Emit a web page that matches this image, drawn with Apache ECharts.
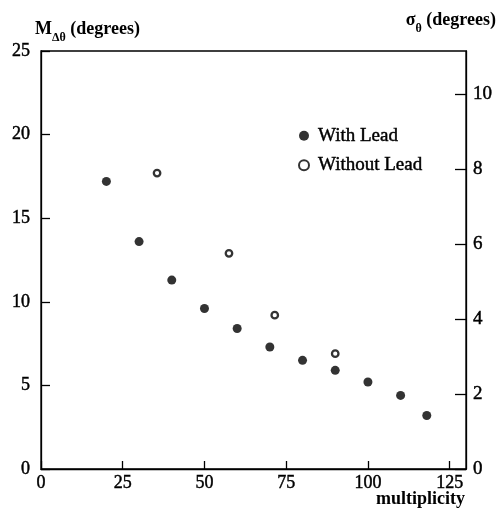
<!DOCTYPE html>
<html>
<head>
<meta charset="utf-8">
<script src="https://cdn.jsdelivr.net/npm/echarts@6/dist/echarts.min.js"></script>
<style>
  html, body { margin: 0; padding: 0; background: #fff; }
  #chart { width: 498px; height: 515px; }
</style>
</head>
<body>
<div id="chart"></div>
<script>
// Multiplicity values and angular resolution (degrees)
const withLeadX = [20, 30, 40, 50, 60, 70, 80, 90, 100, 110, 118];
const withLeadY = [17.2, 13.6, 11.3, 9.6, 8.4, 7.3, 6.5, 5.9, 5.2, 4.4, 3.2];
const withoutLeadX = [35.5, 57.5, 71.5, 90];
const withoutLeadY = [17.7, 12.9, 9.2, 6.9];

const seriesNames = ['With Lead', 'Without Lead'];
const xTicks = [0, 25, 50, 75, 100, 125];
const leftTicks = [0, 5, 10, 15, 20, 25];
const rightTicks = [0, 2, 4, 6, 8, 10];

// sigma scale: full left range (25) corresponds to ~11.15 on the right axis
const leftMax = 25;
const rightMax = 11.15;

const FONT = '"Liberation Serif", "DejaVu Serif", serif';
// slightly heavier strokes for the serif text
const heavy = { textBorderColor: '#000', textBorderWidth: 0.45 };

const pairs = (xs, ys) => xs.map((x, i) => [x, ys[i]]);

const chart = echarts.init(document.getElementById('chart'));
chart.setOption({
  animation: false,
  backgroundColor: '#fff',
  textStyle: { fontFamily: FONT, color: '#000' },
  grid: {
    left: 41, right: 32, top: 51, bottom: 46,
    containLabel: false,
    outerBoundsMode: 'none',
    show: true, borderColor: '#000', borderWidth: 1.3
  },
  legend: {
    orient: 'vertical',
    left: 293, top: 121,
    itemWidth: 10, itemHeight: 10,
    itemGap: 10,
    data: seriesNames,
    textStyle: Object.assign({ fontFamily: FONT, fontSize: 19, color: '#000', padding: [0, 0, 0, 4] }, heavy)
  },
  xAxis: {
    type: 'value',
    min: 0, max: 130, interval: 25,
    name: 'multiplicity',
    nameLocation: 'end',
    nameGap: 0,
    nameMoveOverlap: false,
    nameTextStyle: {
      fontFamily: FONT, fontSize: 18, fontWeight: 'bold', color: '#000',
      align: 'right', verticalAlign: 'top', padding: [21, 1, 0, 0]
    },
    axisLine: { show: true, lineStyle: { color: '#000', width: 1.3 } },
    axisTick: { show: true, inside: true, length: 8, lineStyle: { color: '#000', width: 1.3 } },
    axisLabel: Object.assign({
      fontFamily: FONT, fontSize: 18, color: '#000', margin: 5,
      showMaxLabel: false,
      formatter: v => (xTicks.includes(v) ? String(v) : '')
    }, heavy),
    splitLine: { show: false }
  },
  yAxis: [
    {
      type: 'value',
      position: 'left',
      min: 0, max: leftMax, interval: 5,
      name: '{m|M}{s|Δθ}{m| (degrees)}',
      nameLocation: 'end',
      nameGap: 13,
      nameMoveOverlap: false,
      nameTextStyle: {
        align: 'left', padding: [0, 0, 0, -6],
        rich: {
          m: { fontFamily: FONT, fontSize: 18, fontWeight: 'bold', color: '#000' },
          s: { fontFamily: FONT, fontSize: 12, fontWeight: 'bold', color: '#000', verticalAlign: 'bottom', padding: [0, 0, -6, 0] }
        }
      },
      axisLine: { show: true, lineStyle: { color: '#000', width: 1.3 } },
      axisTick: { show: true, inside: true, length: 9, lineStyle: { color: '#000', width: 1.3 } },
      axisLabel: Object.assign({
        fontFamily: FONT, fontSize: 18, color: '#000', margin: 11,
        formatter: v => (leftTicks.includes(v) ? String(v) : '')
      }, heavy),
      splitLine: { show: false }
    },
    {
      type: 'value',
      position: 'right',
      min: 0, max: rightMax, interval: 2,
      name: '{m|σ}{s|θ}{m| (degrees)}',
      nameLocation: 'end',
      nameGap: 22,
      nameMoveOverlap: false,
      nameTextStyle: {
        align: 'right', padding: [0, -30, 0, 0],
        rich: {
          m: { fontFamily: FONT, fontSize: 18, fontWeight: 'bold', color: '#000' },
          s: { fontFamily: FONT, fontSize: 12, fontWeight: 'bold', color: '#000', verticalAlign: 'bottom', padding: [0, 0, -6, 0] }
        }
      },
      axisLine: { show: true, lineStyle: { color: '#000', width: 1.3 } },
      axisTick: { show: true, inside: true, length: 11, lineStyle: { color: '#000', width: 1.3 } },
      axisLabel: Object.assign({
        fontFamily: FONT, fontSize: 19, color: '#000', margin: 7,
        showMaxLabel: false,
        formatter: v => (rightTicks.includes(v) ? String(v) : '')
      }, heavy),
      splitLine: { show: false }
    }
  ],
  series: [
    {
      name: seriesNames[0],
      type: 'scatter',
      yAxisIndex: 0,
      symbol: 'circle',
      symbolSize: 9,
      itemStyle: { color: '#000' },
      data: pairs(withLeadX, withLeadY)
    },
    {
      name: seriesNames[1],
      type: 'scatter',
      yAxisIndex: 0,
      symbol: 'circle',
      symbolSize: 6.5,
      itemStyle: { color: '#fff', borderColor: '#000', borderWidth: 2.3 },
      data: pairs(withoutLeadX, withoutLeadY)
    }
  ]
});
</script>
</body>
</html>
